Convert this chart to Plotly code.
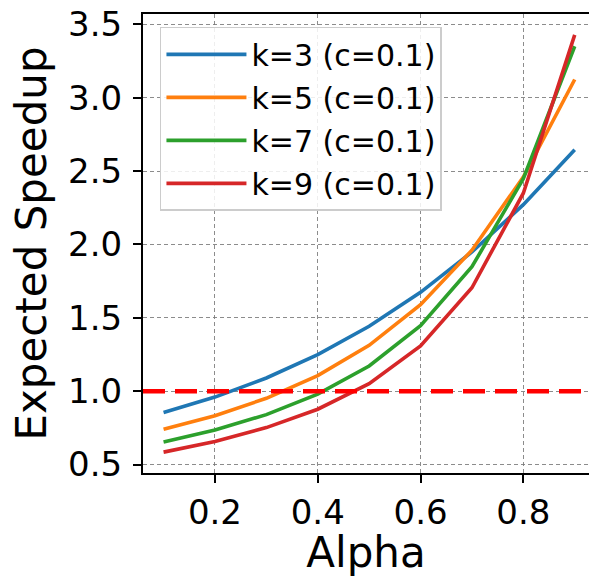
import plotly.graph_objects as go

# Acceptance rate (alpha) and expected speedup for each draft length k, cost ratio c = 0.1
alpha = [0.1, 0.2, 0.3, 0.4, 0.5, 0.6, 0.7, 0.8, 0.9]
speedup_k3 = [0.8546, 0.9600, 1.0900, 1.2492, 1.4423, 1.6738, 1.9485, 2.2708, 2.6454]
speedup_k5 = [0.7407, 0.8333, 0.9517, 1.1066, 1.3125, 1.5889, 1.9608, 2.4595, 3.1237]
speedup_k7 = [0.6536, 0.7353, 0.8403, 0.9797, 1.1719, 1.4459, 1.8477, 2.4477, 3.3502]
speedup_k9 = [0.5848, 0.6579, 0.7519, 0.8771, 1.0516, 1.3078, 1.7048, 2.3490, 3.4280]
series_names = ["k=3 (c=0.1)", "k=5 (c=0.1)", "k=7 (c=0.1)", "k=9 (c=0.1)"]
series_colors = ["#1f77b4", "#ff7f0e", "#2ca02c", "#d62728"]
baseline = 1.0
x_ticks = [0.2, 0.4, 0.6, 0.8]
y_ticks = [0.5, 1.0, 1.5, 2.0, 2.5, 3.0, 3.5]

FONT = "DejaVu Sans"

fig = go.Figure()
for i, (name, ys, col) in enumerate(zip(series_names,
                                        [speedup_k3, speedup_k5, speedup_k7, speedup_k9],
                                        series_colors)):
    fig.add_trace(go.Scatter(x=alpha, y=ys, mode="lines", name=name, legendgroup=f"g{i}",
                             line=dict(color=col, width=3.6)))

# break-even reference line
fig.add_shape(type="line", xref="paper", x0=0, x1=1, yref="y", y0=baseline, y1=baseline,
              line=dict(color="#ff0000", width=4.5, dash="22px,10px"), layer="above")

axis_common = dict(
    showline=True, linecolor="black", linewidth=2,
    ticks="outside", ticklen=8, tickwidth=2, tickcolor="black",
    showgrid=True, gridcolor="rgba(120,120,120,0.85)", gridwidth=1, griddash="4px,3px",
    zeroline=False, tickfont=dict(family=FONT, size=34, color="black"),
)

fig.update_layout(
    width=589, height=577,
    margin=dict(l=143, r=0, t=14, b=104),
    plot_bgcolor="white", paper_bgcolor="white",
    font=dict(family=FONT, color="black"),
    xaxis=dict(axis_common, range=[0.06, 0.9278], tickvals=x_ticks,
               ticktext=[f"{v:.1f}" for v in x_ticks], mirror=True,
               title=dict(text="Alpha", font=dict(family=FONT, size=42), standoff=6)),
    yaxis=dict(axis_common, range=[0.4426, 3.5701], tickvals=y_ticks,
               ticktext=[f"{v:.1f}" for v in y_ticks], ticklabelstandoff=4,
               title=dict(text="Expected Speedup", font=dict(family=FONT, size=42), standoff=8)),
    legend=dict(x=0.038, y=0.972, xanchor="left", yanchor="top",
                bgcolor="rgba(255,255,255,0.85)", bordercolor="#cccccc", borderwidth=1.5,
                font=dict(family=FONT, size=30, color="black"), tracegroupgap=1,
                itemwidth=80),
    showlegend=True,
)

fig.write_html("out.html")
